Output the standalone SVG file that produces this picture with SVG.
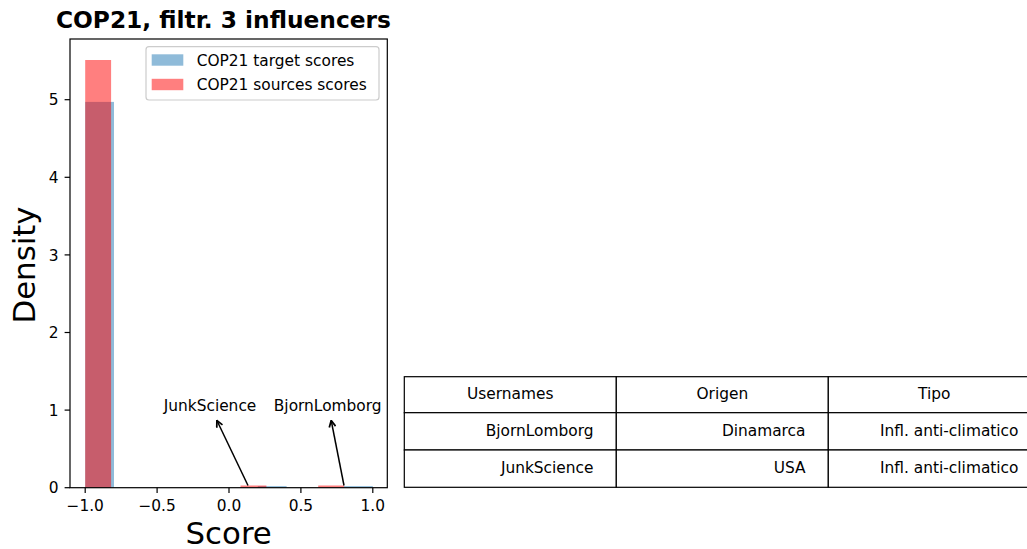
<svg xmlns="http://www.w3.org/2000/svg" width="1027" height="549" viewBox="0 0 1027 549">
<defs>
<style>
text{font-family:"DejaVu Sans","Liberation Sans",sans-serif;fill:#000}
.tick{font-size:15.4px}
.yt{text-anchor:end}
.xt{text-anchor:middle}
.tk{stroke:#000;stroke-width:1.2}
.blue{fill:#1f77b4;fill-opacity:0.5}
.red{fill:#ff0000;fill-opacity:0.5}
.cell{fill:#fff;stroke:#000;stroke-width:1.2}
.tc{font-size:15.4px;text-anchor:middle}
.tr{font-size:15.4px;text-anchor:end}
.arr{fill:none;stroke:#000;stroke-width:1.5}
</style>
<marker id="ah" viewBox="0 0 10 10" refX="9" refY="5" markerWidth="8" markerHeight="8" markerUnits="userSpaceOnUse" orient="auto">
<path d="M1,1 L9,5 L1,9" fill="none" stroke="#000" stroke-width="2.2"/>
</marker>
</defs>
<rect width="1027" height="549" fill="#fff"/>

<text x="223.4" y="28" font-size="23.3px" font-weight="bold" text-anchor="middle">COP21, filtr. 3 influencers</text>

<g id="histogram">
<rect class="blue" x="85.2" y="101.9" width="28.8" height="385.8"/>
<rect class="blue" x="257.8" y="486.1" width="28.8" height="1.6"/>
<rect class="blue" x="344" y="486.1" width="28.8" height="1.6"/>
<rect class="red" x="85.2" y="60" width="25.9" height="427.7"/>
<rect class="red" x="240.5" y="485.5" width="25.9" height="2.2"/>
<rect class="red" x="318.2" y="485.5" width="25.9" height="2.2"/>
</g>

<g id="axes">
<rect x="70" y="39" width="317.3" height="448.7" fill="none" stroke="#000" stroke-width="1.2"/>
<g class="tk">
<line x1="64.6" y1="487.7" x2="70" y2="487.7"/>
<line x1="64.6" y1="410.1" x2="70" y2="410.1"/>
<line x1="64.6" y1="332.5" x2="70" y2="332.5"/>
<line x1="64.6" y1="254.9" x2="70" y2="254.9"/>
<line x1="64.6" y1="177.3" x2="70" y2="177.3"/>
<line x1="64.6" y1="99.7" x2="70" y2="99.7"/>
<line x1="85.2" y1="487.7" x2="85.2" y2="493.1"/>
<line x1="157.1" y1="487.7" x2="157.1" y2="493.1"/>
<line x1="229" y1="487.7" x2="229" y2="493.1"/>
<line x1="300.9" y1="487.7" x2="300.9" y2="493.1"/>
<line x1="372.8" y1="487.7" x2="372.8" y2="493.1"/>
</g>
<g class="tick yt">
<text x="58.5" y="493.3">0</text>
<text x="58.5" y="415.7">1</text>
<text x="58.5" y="338.1">2</text>
<text x="58.5" y="260.5">3</text>
<text x="58.5" y="182.9">4</text>
<text x="58.5" y="105.3">5</text>
</g>
<g class="tick xt">
<text x="85.2" y="510.5">−1.0</text>
<text x="157.1" y="510.5">−0.5</text>
<text x="229" y="510.5">0.0</text>
<text x="300.9" y="510.5">0.5</text>
<text x="372.8" y="510.5">1.0</text>
</g>
<text x="228.7" y="544" font-size="30.8px" text-anchor="middle">Score</text>
<text transform="translate(35,265) rotate(-90)" font-size="30.8px" text-anchor="middle">Density</text>
</g>

<g id="legend">
<rect x="146" y="46.7" width="233" height="53.3" rx="3" fill="#fff" fill-opacity="0.8" stroke="#cccccc" stroke-width="1.2"/>
<rect class="blue" x="151.7" y="54.3" width="31.6" height="11.4"/>
<rect class="red" x="151.7" y="78.8" width="31.6" height="11.4"/>
<text class="tick" x="196.7" y="65.6">COP21 target scores</text>
<text class="tick" x="196.7" y="90">COP21 sources scores</text>
</g>

<g id="annotations">
<text class="tc" x="210" y="411">JunkScience</text>
<text class="tc" x="327.7" y="411">BjornLomborg</text>
<g id="connectors">
<line class="arr" x1="248" y1="485.5" x2="216.9" y2="420.5" marker-end="url(#ah)"/>
<line class="arr" x1="344" y1="485.5" x2="331.2" y2="420.5" marker-end="url(#ah)"/>
</g>
</g>

<g id="table">
<rect class="cell" x="404.3" y="376.7" width="212" height="36"/>
<rect class="cell" x="616.3" y="376.7" width="212" height="36"/>
<rect class="cell" x="828.3" y="376.7" width="212" height="36"/>
<rect class="cell" x="404.3" y="412.7" width="212" height="37.3"/>
<rect class="cell" x="616.3" y="412.7" width="212" height="37.3"/>
<rect class="cell" x="828.3" y="412.7" width="212" height="37.3"/>
<rect class="cell" x="404.3" y="450" width="212" height="37.3"/>
<rect class="cell" x="616.3" y="450" width="212" height="37.3"/>
<rect class="cell" x="828.3" y="450" width="212" height="37.3"/>
<text class="tc" x="510.3" y="399">Usernames</text>
<text class="tc" x="722.3" y="399">Origen</text>
<text class="tc" x="934.3" y="399">Tipo</text>
<text class="tr" x="593.5" y="436">BjornLomborg</text>
<text class="tr" x="805.5" y="436">Dinamarca</text>
<text class="tr" x="1018.5" y="436">Infl. anti-climatico</text>
<text class="tr" x="593.5" y="473.3">JunkScience</text>
<text class="tr" x="805.5" y="473.3">USA</text>
<text class="tr" x="1018.5" y="473.3">Infl. anti-climatico</text>
</g>
</svg>
